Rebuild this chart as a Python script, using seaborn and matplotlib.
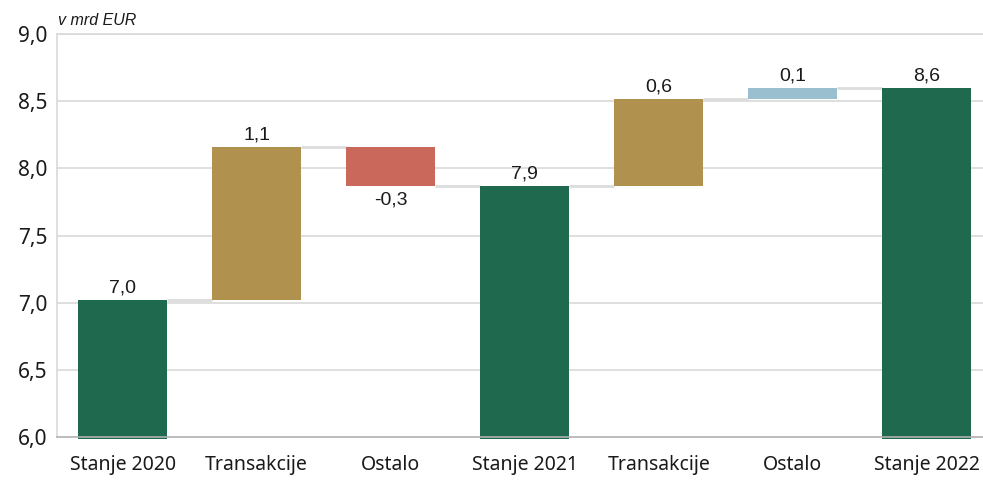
import numpy as np
import matplotlib
matplotlib.use("Agg")
import matplotlib.pyplot as plt
import seaborn as sns

categories = ["Stanje 2020", "Transakcije", "Ostalo", "Stanje 2021", "Transakcije", "Ostalo", "Stanje 2022"]
kinds = ["total", "trans", "other", "total", "trans", "other", "total"]
values = [7.02, 1.14, -0.29, 7.87, 0.65, 0.08, 8.60]
labels = ["7,0", "1,1", "-0,3", "7,9", "0,6", "0,1", "8,6"]
yticks = [6.0, 6.5, 7.0, 7.5, 8.0, 8.5, 9.0]

colors = {"total": "#1f6a4f", "trans": "#b0914e", "other_neg": "#c9685b", "other_pos": "#9abfce"}

sns.set_style("white")
plt.rcParams["font.family"] = ["Noto Sans", "DejaVu Sans"]

fig = plt.figure(figsize=(9.83, 4.82), dpi=100)
ax = fig.add_axes([0.058, 0.0934, 0.942, 0.836])

ymin = 6.0
width = 0.66
bottoms, tops = [], []
running = 0.0
for k, v in zip(kinds, values):
    if k == "total":
        b, t = ymin, v
        running = v
    else:
        b, t = running, running + v
        running = t
    bottoms.append(min(b, t))
    tops.append(max(b, t))

# grid
for y in yticks[1:]:
    ax.axhline(y, color="#d9d9d9", lw=1.2, zorder=0)

# connectors
levels = []
running = 0.0
for k, v in zip(kinds, values):
    running = v if k == "total" else running + v
    levels.append(running)
for i in range(len(categories) - 1):
    ax.plot([i + width / 2, i + 1 - width / 2], [levels[i], levels[i]],
            color="#dcdcdc", lw=2.0, zorder=1, solid_capstyle="butt")

for i, (k, v) in enumerate(zip(kinds, values)):
    if k == "total":
        c = colors["total"]
    elif k == "trans":
        c = colors["trans"]
    else:
        c = colors["other_neg"] if v < 0 else colors["other_pos"]
    b = bottoms[i] - (0.015 if k == "total" else 0)
    h = tops[i] - b
    sns.barplot(x=[i], y=[h], bottom=b, native_scale=True, color=c, width=width,
                errorbar=None, saturation=1, ax=ax, zorder=2, linewidth=0,
                clip_on=False)
    if v < 0:
        ax.text(i, bottoms[i] - 0.04, labels[i], ha="center", va="top",
                fontsize=14, family="Liberation Sans", color="#1a1a1a")
    else:
        ax.text(i, tops[i] + 0.025, labels[i], ha="center", va="bottom",
                fontsize=14, family="Liberation Sans", color="#1a1a1a")

ax.set_xlim(-0.49, 6.42)
ax.set_ylim(6.0, 9.0)
ax.set_yticks(yticks)
ax.set_yticklabels([f"{y:.1f}".replace(".", ",") for y in yticks], fontsize=15)
ax.set_xticks(range(len(categories)))
ax.set_xticklabels(categories, fontsize=14)
ax.tick_params(axis="both", length=0, colors="#1a1a1a")
ax.tick_params(axis="x", pad=13)
ax.tick_params(axis="y", pad=7)
ax.set_xlabel("")
ax.set_ylabel("")

for s in ["top", "right"]:
    ax.spines[s].set_visible(False)
ax.spines["left"].set_color("#d9d9d9")
ax.spines["left"].set_linewidth(1.2)
ax.spines["bottom"].set_color("#b0b0b0")
ax.spines["bottom"].set_linewidth(1.2)
ax.axhline(9.0, color="#d9d9d9", lw=1.2, zorder=0, clip_on=False)

fig.text(0.059, 0.957, "v mrd EUR", fontsize=11.5, style="italic",
         family="Liberation Sans", color="#1a1a1a", va="center")

fig.savefig("out.png", dpi=100)
